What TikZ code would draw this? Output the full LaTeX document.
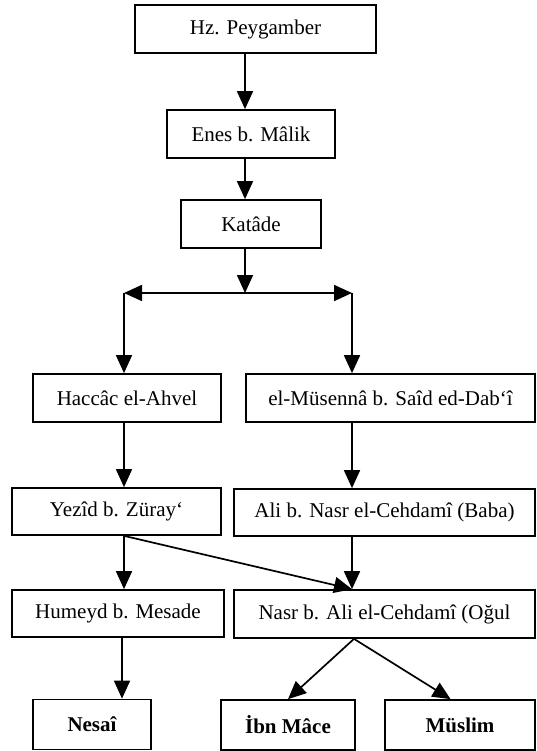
\documentclass[tikz,border=0pt]{standalone}
\usepackage{fontspec}
\setmainfont{Liberation Serif}
\usetikzlibrary{arrows.meta}

\begin{document}
\begin{tikzpicture}[x=1pt,y=-1pt,
  ravi/.style={draw,line width=1.7pt,inner sep=0pt,minimum height=48pt,
               font=\fontsize{21}{25}\selectfont},
  kitab/.style={ravi,minimum height=50pt,font=\fontsize{21}{25}\selectfont\bfseries},
  isnad/.style={line width=1.7pt,-{Triangle[length=18pt,width=16pt]}}]
\useasboundingbox (0,0) rectangle (536,751);

\node[ravi,minimum width=241pt] (peyg) at (255.5,29)  {Hz. Peygamber};
\node[ravi,minimum width=168pt] (enes) at (251,134)   {Enes b. Mâlik};
\node[ravi,minimum width=140pt] (kat)  at (251,224)   {Katâde};

\node[ravi,minimum width=188pt] (hac)  at (127,398)   {Haccâc el-Ahvel};
\node[ravi,minimum width=289pt] (mus)  at (390.5,398) {el-Müsennâ b. Saîd ed-Dab‘î};

\node[ravi,minimum width=209pt,minimum height=47pt] (yez)  at (116.5,511.5) {Yezîd b. Züray‘};
\node[ravi,minimum width=301pt,minimum height=47pt] (ali)  at (384.5,512.5) {Ali b. Nasr el-Cehdamî (Baba)};

\node[ravi,minimum width=212pt,minimum height=47pt] (hum)  at (118,613.5) {Humeyd b. Mesade};
\node[ravi,minimum width=301pt] (nasr) at (384.5,614) {Nasr b. Ali el-Cehdamî (Oğul};

\node[kitab,minimum width=118pt] (nes)  at (92,724.5) {Nesaî};
\node[kitab,minimum width=134pt] (ibn)  at (288,725)  {İbn Mâce};
\node[kitab,minimum width=150pt] (msl)  at (460,725)  {Müslim};

% split point and the two columns
\coordinate (split)  at (245,293);
\coordinate (lsplit) at (124,293);
\coordinate (rsplit) at (352,293);

\draw[isnad] (split |- peyg.south) -- (split |- enes.north);
\draw[isnad] (split |- enes.south) -- (split |- kat.north);
\draw[isnad] (split |- kat.south)  -- (split);

\draw[isnad] (split) -- (lsplit);
\draw[isnad] (split) -- (rsplit);
\draw[isnad] (lsplit) -- (lsplit |- hac.north);
\draw[isnad] (rsplit) -- (rsplit |- mus.north);

\draw[isnad] (lsplit |- hac.south) -- (lsplit |- yez.north);
\draw[isnad] (rsplit |- mus.south) -- (rsplit |- ali.north);

\draw[isnad] (lsplit |- yez.south) -- (lsplit |- hum.north);
\draw[isnad] (lsplit |- yez.south) -- (rsplit |- nasr.north);
\draw[isnad] (rsplit |- ali.south) -- (rsplit |- nasr.north);

\draw[isnad] (122,0 |- hum.south) -- (122,0 |- nes.north);
\draw[isnad] (354,0 |- nasr.south) -- (ibn.north);
\draw[isnad] (354,0 |- nasr.south) -- (msl.110);
\end{tikzpicture}
\end{document}
